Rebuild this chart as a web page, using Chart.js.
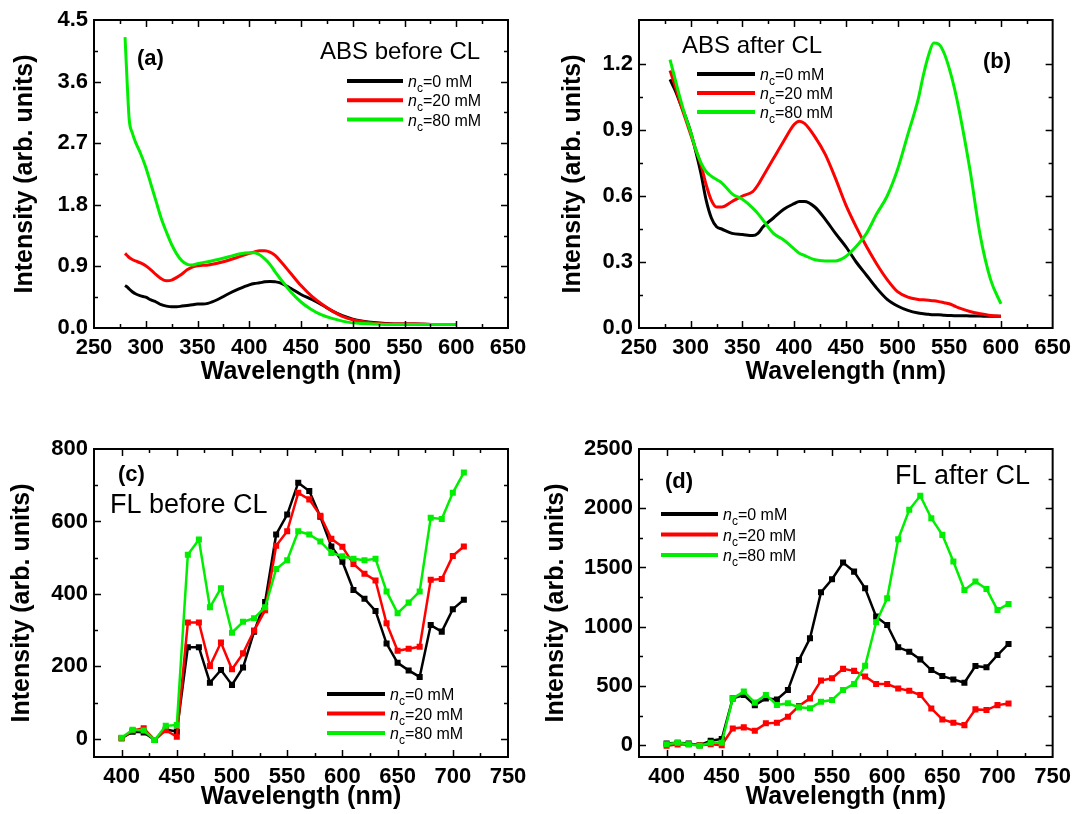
<!DOCTYPE html>
<html>
<head>
<meta charset="utf-8">
<script src="https://cdn.jsdelivr.net/npm/chart.js@4.4.1/dist/chart.umd.min.js"></script>
<style>
  html, body { margin: 0; padding: 0; background: #fff; }
  #wrap { position: relative; width: 1078px; height: 814px; }
  canvas { position: absolute; }
</style>
</head>
<body>
<div id="wrap">
  <canvas id="panelA" width="539" height="407" style="left:0;top:0"></canvas>
  <canvas id="panelB" width="539" height="407" style="left:539px;top:0"></canvas>
  <canvas id="panelC" width="539" height="407" style="left:0;top:407px"></canvas>
  <canvas id="panelD" width="539" height="407" style="left:539px;top:407px"></canvas>
</div>
<script>
// ---- data ----
const concentrations = ['0 mM', '20 mM', '80 mM'];

// (a) absorption before CL
const absBeforeNm = [280, 282, 284, 287, 290, 295, 300, 305, 310, 315, 320, 325, 330, 335, 340, 345, 350, 355, 360, 370,
  380, 390, 400, 405, 410, 415, 420, 425, 430, 440, 450, 460, 470, 480, 490, 500, 510, 520, 540, 560, 580, 600];
const absBefore0 = [0.62, 0.60, 0.57, 0.53, 0.50, 0.47, 0.45, 0.41, 0.38, 0.34, 0.32, 0.31, 0.31, 0.32, 0.33, 0.34, 0.35, 0.35, 0.36, 0.42,
  0.50, 0.57, 0.63, 0.65, 0.66, 0.675, 0.68, 0.675, 0.66, 0.58, 0.49, 0.42, 0.34, 0.25, 0.18, 0.13, 0.10, 0.08, 0.06, 0.06, 0.05, 0.05];
const absBefore20 = [1.09, 1.06, 1.03, 1.00, 0.98, 0.95, 0.91, 0.85, 0.78, 0.72, 0.69, 0.70, 0.74, 0.79, 0.85, 0.89, 0.91, 0.915, 0.92, 0.95,
  0.99, 1.04, 1.09, 1.11, 1.13, 1.13, 1.11, 1.06, 0.98, 0.80, 0.62, 0.47, 0.35, 0.25, 0.17, 0.12, 0.09, 0.07, 0.06, 0.06, 0.05, 0.05];
const absBefore80 = [4.25, 3.60, 3.05, 2.85, 2.72, 2.55, 2.35, 2.10, 1.85, 1.60, 1.40, 1.22, 1.08, 0.98, 0.93, 0.92, 0.94, 0.955, 0.97, 1.00,
  1.04, 1.08, 1.10, 1.10, 1.07, 1.01, 0.93, 0.82, 0.72, 0.53, 0.38, 0.27, 0.19, 0.14, 0.10, 0.075, 0.065, 0.06, 0.05, 0.05, 0.05, 0.05];

// (b) absorption after CL
const absAfterNm = [280, 285, 290, 295, 300, 305, 310, 315, 320, 325, 330, 340, 350, 360, 365, 370, 380, 390, 400, 405, 410, 420,
  430, 440, 450, 460, 470, 480, 490, 500, 510, 520, 525, 530, 535, 540, 545, 550, 555, 560, 570, 580, 590, 600];
const absAfter0 = [1.13, 1.08, 1.02, 0.96, 0.89, 0.80, 0.70, 0.58, 0.50, 0.46, 0.45, 0.43, 0.425, 0.42, 0.43, 0.46, 0.50, 0.54, 0.565, 0.575, 0.575, 0.55,
  0.495, 0.43, 0.37, 0.30, 0.24, 0.18, 0.13, 0.10, 0.08, 0.068, 0.065, 0.062, 0.06, 0.06, 0.058, 0.057, 0.056, 0.056, 0.055, 0.054, 0.053, 0.053];
const absAfter20 = [1.17, 1.10, 1.02, 0.95, 0.88, 0.81, 0.74, 0.65, 0.58, 0.55, 0.55, 0.575, 0.60, 0.62, 0.65, 0.69, 0.77, 0.85, 0.925, 0.94, 0.93, 0.87,
  0.79, 0.68, 0.56, 0.46, 0.37, 0.29, 0.22, 0.165, 0.14, 0.13, 0.128, 0.126, 0.124, 0.12, 0.115, 0.11, 0.10, 0.09, 0.075, 0.065, 0.057, 0.053];
const absAfter80 = [1.22, 1.13, 1.04, 0.96, 0.89, 0.81, 0.75, 0.71, 0.69, 0.675, 0.66, 0.61, 0.585, 0.545, 0.52, 0.49, 0.43, 0.40, 0.36, 0.34, 0.33, 0.31,
  0.305, 0.305, 0.325, 0.37, 0.43, 0.52, 0.60, 0.72, 0.88, 1.04, 1.15, 1.24, 1.295, 1.29, 1.25, 1.18, 1.09, 0.98, 0.72, 0.42, 0.22, 0.11];

// (c), (d) fluorescence, one point every 10 nm
const flNm = [400, 410, 420, 430, 440, 450, 460, 470, 480, 490, 500, 510, 520, 530, 540, 550,
  560, 570, 580, 590, 600, 610, 620, 630, 640, 650, 660, 670, 680, 690, 700, 710];
const flBefore0 = [2, 20, 18, -3, 26, 20, 253, 253, 155, 190, 149, 197, 296, 378, 564, 619,
  707, 684, 613, 531, 489, 411, 387, 353, 263, 210, 189, 171, 314, 296, 358, 384];
const flBefore20 = [2, 23, 29, -3, 24, 6, 321, 321, 201, 266, 192, 236, 299, 355, 533, 573,
  679, 661, 616, 552, 530, 483, 456, 437, 319, 243, 249, 254, 439, 441, 505, 531];
const flBefore80 = [3, 25, 23, -3, 36, 38, 508, 550, 363, 416, 293, 323, 333, 363, 469, 493,
  573, 564, 545, 513, 504, 497, 493, 497, 407, 347, 376, 407, 610, 607, 679, 735];
const flAfter0 = [14, 20, 14, 0, 37, 52, 395, 423, 338, 395, 386, 465, 718, 902, 1290, 1400,
  1541, 1465, 1324, 1085, 1014, 826, 789, 724, 634, 583, 555, 527, 668, 657, 761, 854];
const flAfter20 = [-5, 6, 8, 0, 8, 0, 141, 150, 121, 184, 189, 240, 330, 395, 545, 565,
  644, 627, 580, 516, 516, 479, 459, 423, 310, 217, 189, 169, 302, 296, 338, 352];
const flAfter80 = [8, 20, 8, -5, 20, 20, 395, 452, 359, 424, 339, 353, 319, 311, 367, 381,
  466, 517, 670, 1037, 1240, 1739, 1987, 2105, 1916, 1775, 1550, 1310, 1381, 1319, 1141, 1192];

// tick labels
const absXTicks = [250, 300, 350, 400, 450, 500, 550, 600, 650];
const flXTicks = [400, 450, 500, 550, 600, 650, 700, 750];
const absBeforeYTicks = [0, 0.9, 1.8, 2.7, 3.6, 4.5];
const absAfterYTicks = [0, 0.3, 0.6, 0.9, 1.2];
const flBeforeYTicks = [0, 200, 400, 600, 800];
const flAfterYTicks = [0, 500, 1000, 1500, 2000, 2500];

// ---- drawing ----
const FONT = '"Liberation Sans", Arial, Helvetica, sans-serif';
const COLORS = ['#000000', '#ff0000', '#00ee00'];

function toPoints(xs, ys){ return xs.map((x, i) => ({ x: x, y: ys[i] })); }

function midpoints(vals){
  const out = [];
  for(let i = 0; i < vals.length - 1; i++) out.push((vals[i] + vals[i + 1]) / 2);
  return out;
}

function drawLegend(ctx, lg){
  concentrations.forEach((lab, i) => {
    const y = lg.y + i * lg.gap;
    ctx.strokeStyle = COLORS[i];
    ctx.lineWidth = 4;
    ctx.beginPath(); ctx.moveTo(lg.x, y); ctx.lineTo(lg.x + lg.len, y); ctx.stroke();
    let tx = lg.x + lg.len + 5;
    ctx.fillStyle = '#000';
    ctx.textAlign = 'left';
    ctx.textBaseline = 'alphabetic';
    ctx.font = 'italic 16px ' + FONT;
    ctx.fillText('n', tx, y + 6); tx += ctx.measureText('n').width;
    ctx.font = '12px ' + FONT;
    ctx.fillText('c', tx, y + 11); tx += ctx.measureText('c').width;
    ctx.font = '16px ' + FONT;
    ctx.fillText('=' + lab, tx, y + 6);
  });
}

// box with inward ticks on all four sides, panel texts and legend
function framePlugin(p){
  return {
    id: 'frame' + p.id,
    afterDraw(chart){
      const ctx = chart.ctx, a = chart.chartArea, sx = chart.scales.x, sy = chart.scales.y;
      ctx.save();
      ctx.strokeStyle = '#000';
      ctx.lineWidth = 2;
      ctx.strokeRect(a.left, a.top, a.right - a.left, a.bottom - a.top);
      ctx.lineWidth = 1.5;
      ctx.beginPath();
      [[p.xTicks, 7], [midpoints(p.xTicks), 4]].forEach(([vals, len]) => vals.forEach(v => {
        if(v <= sx.min || v >= sx.max) return;
        const px = Math.round(sx.getPixelForValue(v)) + 0.5;
        ctx.moveTo(px, a.bottom); ctx.lineTo(px, a.bottom - len);
        ctx.moveTo(px, a.top); ctx.lineTo(px, a.top + len);
      }));
      [[p.yTicks, 7], [midpoints(p.yTicks), 4]].forEach(([vals, len]) => vals.forEach(v => {
        if(v <= sy.min || v >= sy.max) return;
        const py = Math.round(sy.getPixelForValue(v)) + 0.5;
        ctx.moveTo(a.left, py); ctx.lineTo(a.left + len, py);
        ctx.moveTo(a.right, py); ctx.lineTo(a.right - len, py);
      }));
      ctx.stroke();

      ctx.fillStyle = '#000';
      ctx.textAlign = 'left';
      ctx.textBaseline = 'middle';
      ctx.font = 'bold 22px ' + FONT;
      ctx.fillText(p.tag.text, p.tag.x, p.tag.y);
      ctx.font = p.title.size + 'px ' + FONT;
      ctx.fillText(p.title.text, p.title.x, p.title.y);

      drawLegend(ctx, p.legend);
      ctx.restore();
    }
  };
}

function makePanel(p){
  const datasets = p.series.map((ys, i) => ({
    data: toPoints(p.xs, ys),
    borderColor: COLORS[i],
    backgroundColor: COLORS[i],
    borderWidth: p.markers ? 2.5 : 3,
    pointRadius: p.markers ? 2.5 : 0,
    pointStyle: 'rect',
    tension: p.markers ? 0 : 0.4,
    cubicInterpolationMode: p.markers ? 'default' : 'monotone',
    order: 2 - i
  }));
  const tickFont = { family: FONT, size: 22, weight: 'bold' };
  const titleFont = { family: FONT, size: 25, weight: 'bold' };

  return new Chart(document.getElementById(p.id), {
    type: 'line',
    data: { datasets },
    options: {
      responsive: false,
      animation: false,
      devicePixelRatio: 1,
      layout: { padding: { left: 0, top: p.padTop, right: p.padRight, bottom: 0 } },
      plugins: { legend: { display: false }, tooltip: { enabled: false } },
      scales: {
        x: {
          type: 'linear', min: p.xMin, max: p.xMax,
          afterBuildTicks: s => { s.ticks = p.xTicks.map(v => ({ value: v })); },
          afterFit: s => { s.height = p.xAxisH; },
          grid: { display: false, drawTicks: false },
          border: { display: false },
          ticks: { font: tickFont, color: '#000', padding: 7, maxRotation: 0, autoSkip: false, callback: v => String(v) },
          title: { display: true, text: 'Wavelength (nm)', font: titleFont, color: '#000', padding: { top: 0, bottom: p.xTitlePad } }
        },
        y: {
          type: 'linear', min: p.yMin, max: p.yMax,
          afterBuildTicks: s => { s.ticks = p.yTicks.map(v => ({ value: v })); },
          afterFit: s => { s.width = p.yAxisW; },
          grid: { display: false, drawTicks: false },
          border: { display: false },
          ticks: { font: tickFont, color: '#000', padding: 6, autoSkip: false, callback: v => p.yFmt(v) },
          title: { display: true, text: 'Intensity (arb. units)', font: titleFont, color: '#000', padding: { top: p.yTitlePad, bottom: 0 } }
        }
      }
    },
    plugins: [framePlugin(p)]
  });
}

const oneDecimal = v => v.toFixed(1);
const integer = v => String(Math.round(v));

makePanel({
  id: 'panelA', xs: absBeforeNm, series: [absBefore0, absBefore20, absBefore80], markers: false,
  xMin: 250, xMax: 650, xTicks: absXTicks, yMin: 0, yMax: 4.5, yTicks: absBeforeYTicks, yFmt: oneDecimal,
  padTop: 20, padRight: 31, yAxisW: 94, xAxisH: 79, xTitlePad: 20, yTitlePad: 10,
  tag: { text: '(a)', x: 137, y: 59 },
  title: { text: 'ABS before CL', x: 320, y: 52, size: 24 },
  legend: { x: 347, y: 81, gap: 19.3, len: 56 }
});

makePanel({
  id: 'panelB', xs: absAfterNm, series: [absAfter0, absAfter20, absAfter80], markers: false,
  xMin: 250, xMax: 650, xTicks: absXTicks, yMin: 0, yMax: 1.4, yTicks: absAfterYTicks, yFmt: oneDecimal,
  padTop: 20, padRight: 25, yAxisW: 100, xAxisH: 79, xTitlePad: 20, yTitlePad: 19,
  tag: { text: '(b)', x: 444, y: 62 },
  title: { text: 'ABS after CL', x: 143, y: 46, size: 24 },
  legend: { x: 158, y: 74, gap: 19, len: 58 }
});

makePanel({
  id: 'panelC', xs: flNm, series: [flBefore0, flBefore20, flBefore80], markers: true,
  xMin: 375, xMax: 750, xTicks: flXTicks, yMin: -50, yMax: 800, yTicks: flBeforeYTicks, yFmt: integer,
  padTop: 42, padRight: 31, yAxisW: 94, xAxisH: 57, xTitlePad: 2, yTitlePad: 7,
  tag: { text: '(c)', x: 118, y: 68 },
  title: { text: 'FL before CL', x: 110, y: 99, size: 27 },
  legend: { x: 327, y: 287, gap: 19.5, len: 58 }
});

makePanel({
  id: 'panelD', xs: flNm, series: [flAfter0, flAfter20, flAfter80], markers: true,
  xMin: 375, xMax: 750, xTicks: flXTicks, yMin: -100, yMax: 2500, yTicks: flAfterYTicks, yFmt: integer,
  padTop: 42, padRight: 25, yAxisW: 100, xAxisH: 57, xTitlePad: 2, yTitlePad: 2,
  tag: { text: '(d)', x: 126, y: 75 },
  title: { text: 'FL after CL', x: 356, y: 70, size: 27 },
  legend: { x: 122, y: 107, gap: 20.5, len: 57 }
});
</script>
</body>
</html>
